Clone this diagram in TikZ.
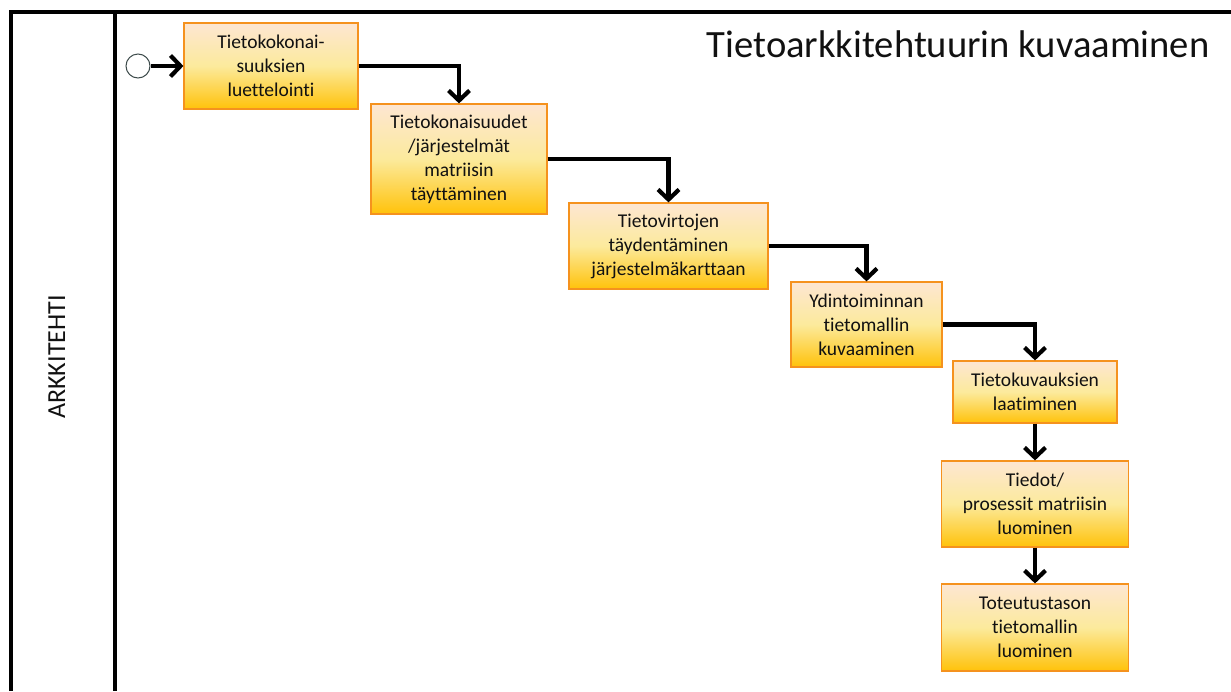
\documentclass[tikz,border=0pt]{standalone}
\usepackage{fontspec}
\setmainfont{Carlito}[Ligatures={NoCommon}]
\usetikzlibrary{arrows.meta}
\definecolor{taskTop}{HTML}{FDE6D2}
\definecolor{taskMid}{HTML}{FCEA9C}
\definecolor{taskBot}{HTML}{FFC20A}
\definecolor{taskEdge}{HTML}{F5921E}
\definecolor{startEdge}{HTML}{3E4C4C}
\definecolor{laneText}{HTML}{111111}

\begin{document}
\begin{tikzpicture}[
    x=1pt,y=-1pt,
    >={Straight Barb[length=10pt,width=21pt]},
    task/.style={draw=taskEdge,line width=1.2pt,top color=taskTop,
      bottom color=taskBot,middle color=taskMid,align=center,inner sep=0pt,
      text=laneText,font={\fontsize{19.5}{24}\selectfont}},
    flow/.style={->,line width=4.2pt},
  ]
  \useasboundingbox (0,0) rectangle (1231,691);

  % Pool and lane
  \draw[line width=4pt] (10.5,691) -- (10.5,12) -- (1231,12);
  \draw[line width=4pt] (115,12) -- (115,691);
  \node[rotate=90,anchor=base,text=laneText,font={\fontsize{26}{30}\selectfont}]
    (lane) at (65,357) {ARKKITEHTI};
  \node[anchor=base east,text=laneText,font={\fontsize{38.6}{44}\selectfont}]
    (title) at (1213,57) {Tietoarkkitehtuurin kuvaaminen};

  % Start event and tasks
  \node[circle,draw=startEdge,line width=1pt,minimum size=24pt,inner sep=0pt]
    (start) at (138,66) {};
  \node[task,minimum width=174pt,minimum height=86pt] (t1) at (271,66)
    {Tietokokonai-\\suuksien\\luettelointi};
  \node[task,minimum width=176pt,minimum height=110pt] (t2) at (459,159)
    {Tietokonaisuudet\\/järjestelmät\\matriisin\\täyttäminen};
  \node[task,minimum width=199pt,minimum height=86pt] (t3) at (668.5,246)
    {Tietovirtojen\\täydentäminen\\järjestelmäkarttaan};
  \node[task,minimum width=151pt,minimum height=85pt] (t4) at (866.5,324.5)
    {Ydintoiminnan\\tietomallin\\kuvaaminen};
  \node[task,minimum width=164pt,minimum height=62pt] (t5) at (1035,392)
    {Tietokuvauksien\\laatiminen};
  \node[task,minimum width=187pt,minimum height=86pt] (t6) at (1035,504)
    {Tiedot/\\prosessit matriisin\\luominen};
  \node[task,minimum width=187pt,minimum height=87pt] (t7) at (1035,627.5)
    {Toteutustason\\tietomallin\\luominen};

  % Sequence flows
  \draw[flow] (start) -- (t1);
  \draw[flow] (t1.east) -| (t2.north);
  \draw[flow] (t2.east) -| (t3.north);
  \draw[flow] (t3.east) -| (t4.north);
  \draw[flow] (t4.east) -| (t5.north);
  \draw[flow] (t5) -- (t6);
  \draw[flow] (t6) -- (t7);
\end{tikzpicture}
\end{document}
